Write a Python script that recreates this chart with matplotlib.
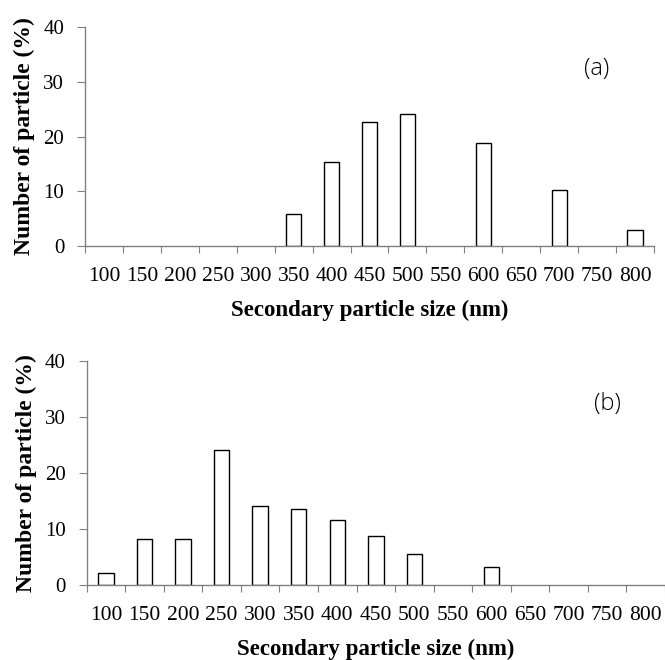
import matplotlib
matplotlib.use('Agg')
from matplotlib import pyplot as plt
import numpy as np

sizes = ['100', '150', '200', '250', '300', '350', '400', '450',
         '500', '550', '600', '650', '700', '750', '800']

# particle size distribution, % of particles per size class
dist_a = [0, 0, 0, 0, 0, 5.9, 15.3, 22.7, 24.1, 0, 18.8, 0, 10.3, 0, 2.9]
dist_b = [2.1, 8.3, 8.3, 24.1, 14.1, 13.6, 11.7, 8.8, 5.5, 0, 3.3, 0, 0, 0, 0]

serif = ['Liberation Serif', 'DejaVu Serif']

fig = plt.figure(figsize=(6.65, 6.6), dpi=100)
ax_a = fig.add_axes([0.1278, 0.6273, 0.8557, 0.3317])
ax_b = fig.add_axes([0.1304, 0.1136, 0.8696, 0.3394])


def draw(ax, values, tag):
    x = np.arange(len(sizes))
    # empty classes get no outline, so nothing sits on the axis there
    edges = ['black' if v > 0 else 'none' for v in values]
    ax.bar(x, values, width=0.4, color='white', edgecolor=edges, linewidth=1.0)
    ax.set_xlim(-0.5, len(sizes) - 0.5)
    ax.set_ylim(0, 40)
    ax.set_yticks([0, 10, 20, 30, 40])
    ax.set_yticklabels(['0', '10', '20', '30', '40'], family=serif, fontsize=15)
    # ticks sit on the class boundaries, labels in the middle of each class
    ax.set_xticks(np.arange(len(sizes) + 1) - 0.5)
    ax.set_xticklabels([])
    ax.set_xticks(x, minor=True)
    ax.set_xticklabels(sizes, minor=True, family=serif, fontsize=15.5)
    ax.tick_params(axis='x', which='minor', length=0, pad=15)
    ax.tick_params(axis='x', which='major', length=5, color='#808080', direction='out')
    ax.tick_params(axis='y', length=6, color='#808080', direction='out', pad=9)
    for side in ['top', 'right']:
        ax.spines[side].set_visible(False)
    for side in ['left', 'bottom']:
        ax.spines[side].set_color('#808080')
        ax.spines[side].set_linewidth(1.0)
    ax.set_xlabel('Secondary particle size (nm)', family=serif, fontweight='bold',
                  fontsize=16.5, labelpad=10)
    ax.set_ylabel('Number of particle (%)', family=serif, fontweight='bold',
                  fontsize=17, labelpad=6)
    ax.text(0.90, 0.81, tag, transform=ax.transAxes, fontsize=17,
            family=['Open Sans', 'DejaVu Sans'], fontweight='light',
            ha='center', va='center')


draw(ax_a, dist_a, '(a)')
draw(ax_b, dist_b, '(b)')

fig.savefig('out.png', dpi=100)
